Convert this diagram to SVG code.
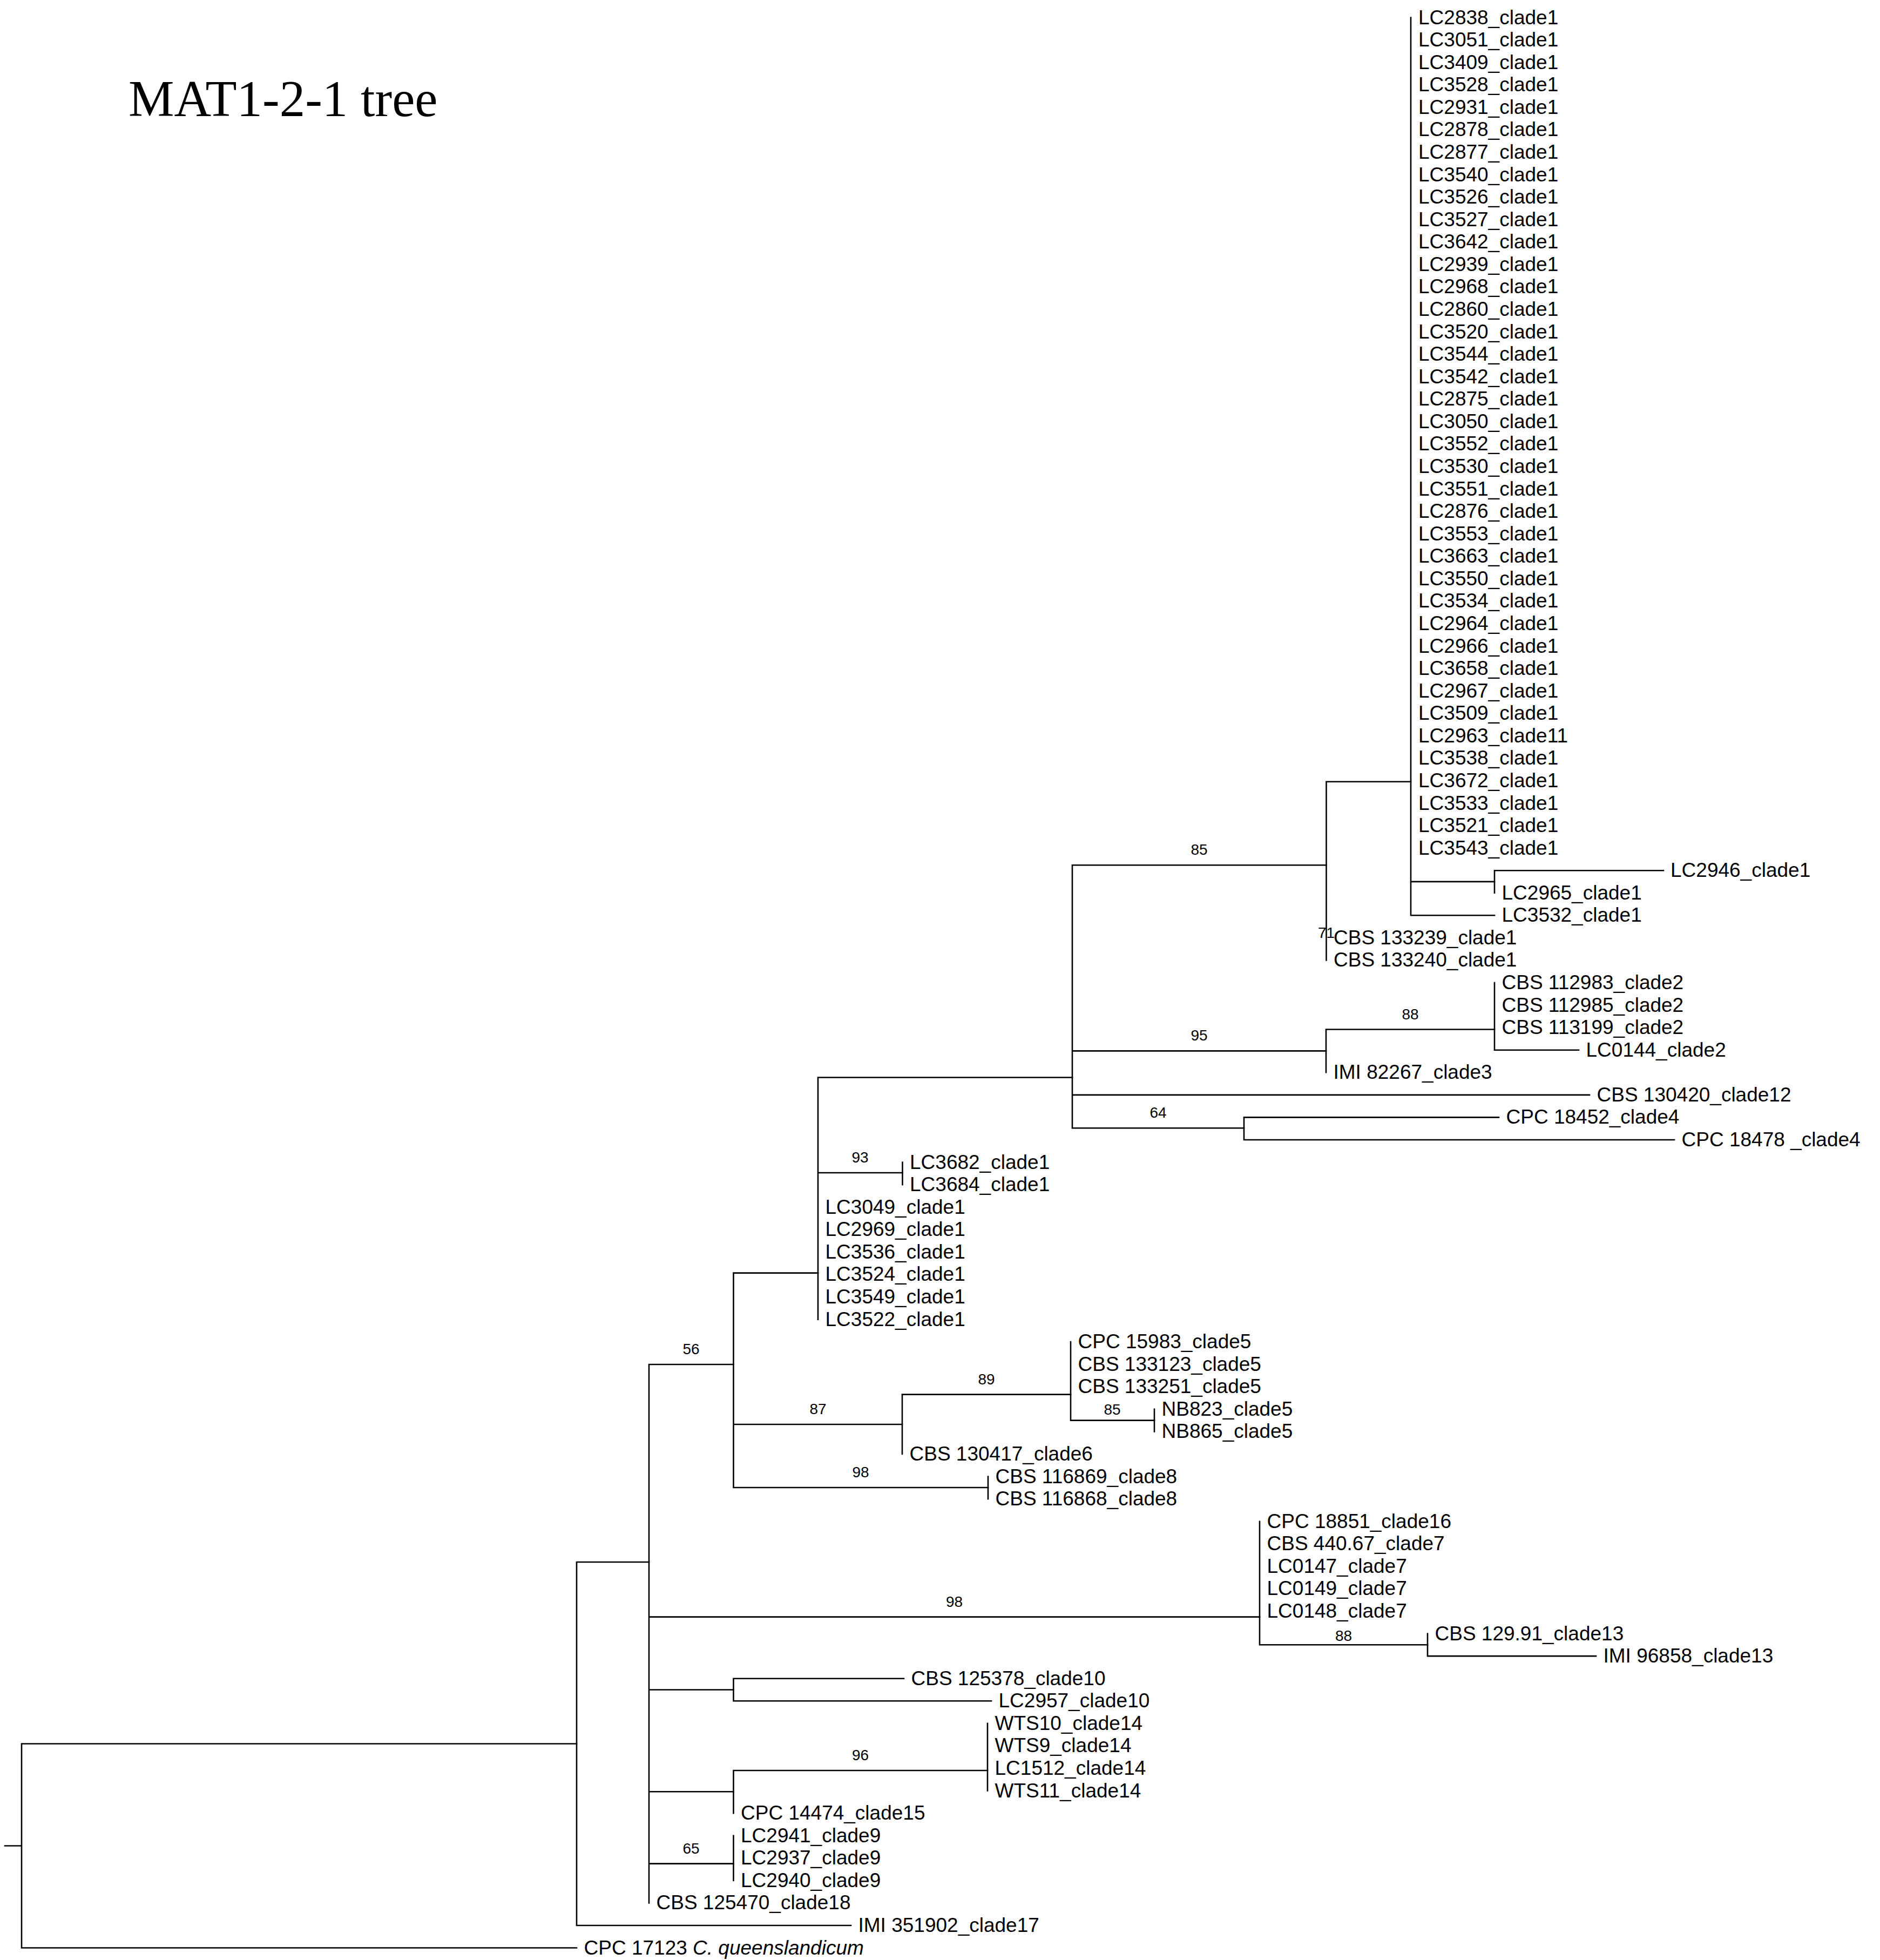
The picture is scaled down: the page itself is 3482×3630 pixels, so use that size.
<svg xmlns="http://www.w3.org/2000/svg" width="3482" height="3630" viewBox="0 0 3482 3630">
<style>
.b{fill:none;stroke:#000;stroke-width:2.6;stroke-linecap:square}
.t{font-family:"Liberation Sans",Arial,sans-serif;font-size:37px;fill:#000}
.s{font-family:"Liberation Sans",Arial,sans-serif;font-size:28px;fill:#000;text-anchor:middle}
.title{font-family:"Liberation Serif","Times New Roman",serif;font-size:95px;fill:#000}
</style>
<rect width="3482" height="3630" fill="#fff"/>
<text class="title" x="238" y="215">MAT1-2-1 tree</text>
<g id="connectors">
<path class="b" d="M9 3418.5H40M40 3229.5V3607.5M40 3229.5H1068M40 3607.5H1068"/>
<path class="b" d="M1068 2893V3566M1068 2893H1202M1068 3566H1576"/>
<path class="b" d="M1202 2527V3524.4M1202 2527H1358.5M1202 2994.6H2333M1202 3129.5H1358.5M1202 3318.3H1358.5M1202 3451.6H1358.5"/>
<path class="b" d="M1358.5 2357.6V2755M1358.5 2357.6H1515M1358.5 2638H1671M1358.5 2755H1830"/>
<path class="b" d="M1515 1995.5V2443.6M1515 1995.5H1986M1515 2172H1671.5"/>
<path class="b" d="M1671.5 2152.6V2194.1"/>
<path class="b" d="M1986 1602.3V2089.2M1986 1602.3H2456.5M1986 1946.4H2456M1986 2027.9H2944M1986 2089.2H2304"/>
<path class="b" d="M2456.5 1447.7V1778.4M2456.5 1447.7H2613"/>
<path class="b" d="M2613 32.5V1695.3M2613 1632.9H2768M2613 1695.3H2768"/>
<path class="b" d="M2768 1612.2V1653.7M2768 1612.2H3081"/>
<path class="b" d="M2456 1906.5V1986.3M2456 1906.5H2768"/>
<path class="b" d="M2768 1820V1944.7M2768 1944.7H2924"/>
<path class="b" d="M2304 2069.4V2111M2304 2069.4H2776M2304 2111H3101"/>
<path class="b" d="M1671 2582.6V2693M1671 2582.6H1983"/>
<path class="b" d="M1983 2485.1V2630.6M1983 2630.6H2138"/>
<path class="b" d="M2138 2609.8V2651.4"/>
<path class="b" d="M1830 2734.6V2776.1"/>
<path class="b" d="M2333 2817.7V3046.3M2333 3046.3H2644"/>
<path class="b" d="M2644 3025.5V3067.1M2644 3067.1H2956"/>
<path class="b" d="M1358.5 3108.7V3150.3M1358.5 3108.7H1674M1358.5 3150.3H1836"/>
<path class="b" d="M1358.5 3279V3358.1M1358.5 3279H1829"/>
<path class="b" d="M1829 3191.8V3316.5"/>
<path class="b" d="M1358.5 3399.7V3482.8"/>
</g>
<g id="support">
<text class="s" x="2221" y="1583">85</text>
<text class="s" x="2456.5" y="1737">71</text>
<text class="s" x="2612" y="1888">88</text>
<text class="s" x="2221" y="1927">95</text>
<text class="s" x="2145" y="2070">64</text>
<text class="s" x="1593" y="2153">93</text>
<text class="s" x="1280" y="2508">56</text>
<text class="s" x="1515" y="2619">87</text>
<text class="s" x="1827" y="2564">89</text>
<text class="s" x="2060" y="2620">85</text>
<text class="s" x="1594" y="2736">98</text>
<text class="s" x="1767.5" y="2976">98</text>
<text class="s" x="2488.5" y="3039">88</text>
<text class="s" x="1593.5" y="3260">96</text>
<text class="s" x="1280" y="3433">65</text>
</g>
<g id="leaves">
<g id="n1"><text class="t" x="2627" y="44.5">LC2838_clade1</text></g>
<g id="n2"><text class="t" x="2627" y="86.1">LC3051_clade1</text></g>
<g id="n3"><text class="t" x="2627" y="127.6">LC3409_clade1</text></g>
<g id="n4"><text class="t" x="2627" y="169.2">LC3528_clade1</text></g>
<g id="n5"><text class="t" x="2627" y="210.8">LC2931_clade1</text></g>
<g id="n6"><text class="t" x="2627" y="252.4">LC2878_clade1</text></g>
<g id="n7"><text class="t" x="2627" y="293.9">LC2877_clade1</text></g>
<g id="n8"><text class="t" x="2627" y="335.5">LC3540_clade1</text></g>
<g id="n9"><text class="t" x="2627" y="377.1">LC3526_clade1</text></g>
<g id="n10"><text class="t" x="2627" y="418.6">LC3527_clade1</text></g>
<g id="n11"><text class="t" x="2627" y="460.2">LC3642_clade1</text></g>
<g id="n12"><text class="t" x="2627" y="501.8">LC2939_clade1</text></g>
<g id="n13"><text class="t" x="2627" y="543.3">LC2968_clade1</text></g>
<g id="n14"><text class="t" x="2627" y="584.9">LC2860_clade1</text></g>
<g id="n15"><text class="t" x="2627" y="626.5">LC3520_clade1</text></g>
<g id="n16"><text class="t" x="2627" y="668.1">LC3544_clade1</text></g>
<g id="n17"><text class="t" x="2627" y="709.6">LC3542_clade1</text></g>
<g id="n18"><text class="t" x="2627" y="751.2">LC2875_clade1</text></g>
<g id="n19"><text class="t" x="2627" y="792.8">LC3050_clade1</text></g>
<g id="n20"><text class="t" x="2627" y="834.3">LC3552_clade1</text></g>
<g id="n21"><text class="t" x="2627" y="875.9">LC3530_clade1</text></g>
<g id="n22"><text class="t" x="2627" y="917.5">LC3551_clade1</text></g>
<g id="n23"><text class="t" x="2627" y="959">LC2876_clade1</text></g>
<g id="n24"><text class="t" x="2627" y="1000.6">LC3553_clade1</text></g>
<g id="n25"><text class="t" x="2627" y="1042.2">LC3663_clade1</text></g>
<g id="n26"><text class="t" x="2627" y="1083.8">LC3550_clade1</text></g>
<g id="n27"><text class="t" x="2627" y="1125.3">LC3534_clade1</text></g>
<g id="n28"><text class="t" x="2627" y="1166.9">LC2964_clade1</text></g>
<g id="n29"><text class="t" x="2627" y="1208.5">LC2966_clade1</text></g>
<g id="n30"><text class="t" x="2627" y="1250">LC3658_clade1</text></g>
<g id="n31"><text class="t" x="2627" y="1291.6">LC2967_clade1</text></g>
<g id="n32"><text class="t" x="2627" y="1333.2">LC3509_clade1</text></g>
<g id="n33"><text class="t" x="2627" y="1374.7">LC2963_clade11</text></g>
<g id="n34"><text class="t" x="2627" y="1416.3">LC3538_clade1</text></g>
<g id="n35"><text class="t" x="2627" y="1457.9">LC3672_clade1</text></g>
<g id="n36"><text class="t" x="2627" y="1499.5">LC3533_clade1</text></g>
<g id="n37"><text class="t" x="2627" y="1541">LC3521_clade1</text></g>
<g id="n38"><text class="t" x="2627" y="1582.6">LC3543_clade1</text></g>
<g id="n39"><text class="t" x="3094" y="1624.2">LC2946_clade1</text></g>
<g id="n40"><text class="t" x="2781.5" y="1665.7">LC2965_clade1</text></g>
<g id="n41"><text class="t" x="2781.5" y="1707.3">LC3532_clade1</text></g>
<g id="n42"><text class="t" x="2470" y="1748.9">CBS 133239_clade1</text></g>
<g id="n43"><text class="t" x="2470" y="1790.4">CBS 133240_clade1</text></g>
<g id="n44"><text class="t" x="2781.5" y="1832">CBS 112983_clade2</text></g>
<g id="n45"><text class="t" x="2781.5" y="1873.6">CBS 112985_clade2</text></g>
<g id="n46"><text class="t" x="2781.5" y="1915.2">CBS 113199_clade2</text></g>
<g id="n47"><text class="t" x="2937.5" y="1956.7">LC0144_clade2</text></g>
<g id="n48"><text class="t" x="2469.5" y="1998.3">IMI 82267_clade3</text></g>
<g id="n49"><text class="t" x="2957.5" y="2039.9">CBS 130420_clade12</text></g>
<g id="n50"><text class="t" x="2789.5" y="2081.4">CPC 18452_clade4</text></g>
<g id="n51"><text class="t" x="3114.5" y="2123">CPC 18478 _clade4</text></g>
<g id="n52"><text class="t" x="1685" y="2164.6">LC3682_clade1</text></g>
<g id="n53"><text class="t" x="1685" y="2206.1">LC3684_clade1</text></g>
<g id="n54"><text class="t" x="1528.5" y="2247.7">LC3049_clade1</text></g>
<g id="n55"><text class="t" x="1528.5" y="2289.3">LC2969_clade1</text></g>
<g id="n56"><text class="t" x="1528.5" y="2330.9">LC3536_clade1</text></g>
<g id="n57"><text class="t" x="1528.5" y="2372.4">LC3524_clade1</text></g>
<g id="n58"><text class="t" x="1528.5" y="2414">LC3549_clade1</text></g>
<g id="n59"><text class="t" x="1528.5" y="2455.6">LC3522_clade1</text></g>
<g id="n60"><text class="t" x="1996.5" y="2497.1">CPC 15983_clade5</text></g>
<g id="n61"><text class="t" x="1996.5" y="2538.7">CBS 133123_clade5</text></g>
<g id="n62"><text class="t" x="1996.5" y="2580.3">CBS 133251_clade5</text></g>
<g id="n63"><text class="t" x="2151.5" y="2621.8">NB823_clade5</text></g>
<g id="n64"><text class="t" x="2151.5" y="2663.4">NB865_clade5</text></g>
<g id="n65"><text class="t" x="1684.5" y="2705">CBS 130417_clade6</text></g>
<g id="n66"><text class="t" x="1843.5" y="2746.6">CBS 116869_clade8</text></g>
<g id="n67"><text class="t" x="1843.5" y="2788.1">CBS 116868_clade8</text></g>
<g id="n68"><text class="t" x="2346.5" y="2829.7">CPC 18851_clade16</text></g>
<g id="n69"><text class="t" x="2346.5" y="2871.3">CBS 440.67_clade7</text></g>
<g id="n70"><text class="t" x="2346.5" y="2912.8">LC0147_clade7</text></g>
<g id="n71"><text class="t" x="2346.5" y="2954.4">LC0149_clade7</text></g>
<g id="n72"><text class="t" x="2346.5" y="2996">LC0148_clade7</text></g>
<g id="n73"><text class="t" x="2657.5" y="3037.5">CBS 129.91_clade13</text></g>
<g id="n74"><text class="t" x="2969.5" y="3079.1">IMI 96858_clade13</text></g>
<g id="n75"><text class="t" x="1687.5" y="3120.7">CBS 125378_clade10</text></g>
<g id="n76"><text class="t" x="1849.5" y="3162.3">LC2957_clade10</text></g>
<g id="n77"><text class="t" x="1842.5" y="3203.8">WTS10_clade14</text></g>
<g id="n78"><text class="t" x="1842.5" y="3245.4">WTS9_clade14</text></g>
<g id="n79"><text class="t" x="1842.5" y="3287">LC1512_clade14</text></g>
<g id="n80"><text class="t" x="1842.5" y="3328.5">WTS11_clade14</text></g>
<g id="n81"><text class="t" x="1372" y="3370.1">CPC 14474_clade15</text></g>
<g id="n82"><text class="t" x="1372" y="3411.7">LC2941_clade9</text></g>
<g id="n83"><text class="t" x="1372" y="3453.2">LC2937_clade9</text></g>
<g id="n84"><text class="t" x="1372" y="3494.8">LC2940_clade9</text></g>
<g id="n85"><text class="t" x="1215.5" y="3536.4">CBS 125470_clade18</text></g>
<g id="n86"><text class="t" x="1589.5" y="3578">IMI 351902_clade17</text></g>
<g id="n87"><text class="t" x="1081.5" y="3619.5">CPC 17123 <tspan font-style="italic">C. queenslandicum</tspan></text></g>
</g>
</svg>
